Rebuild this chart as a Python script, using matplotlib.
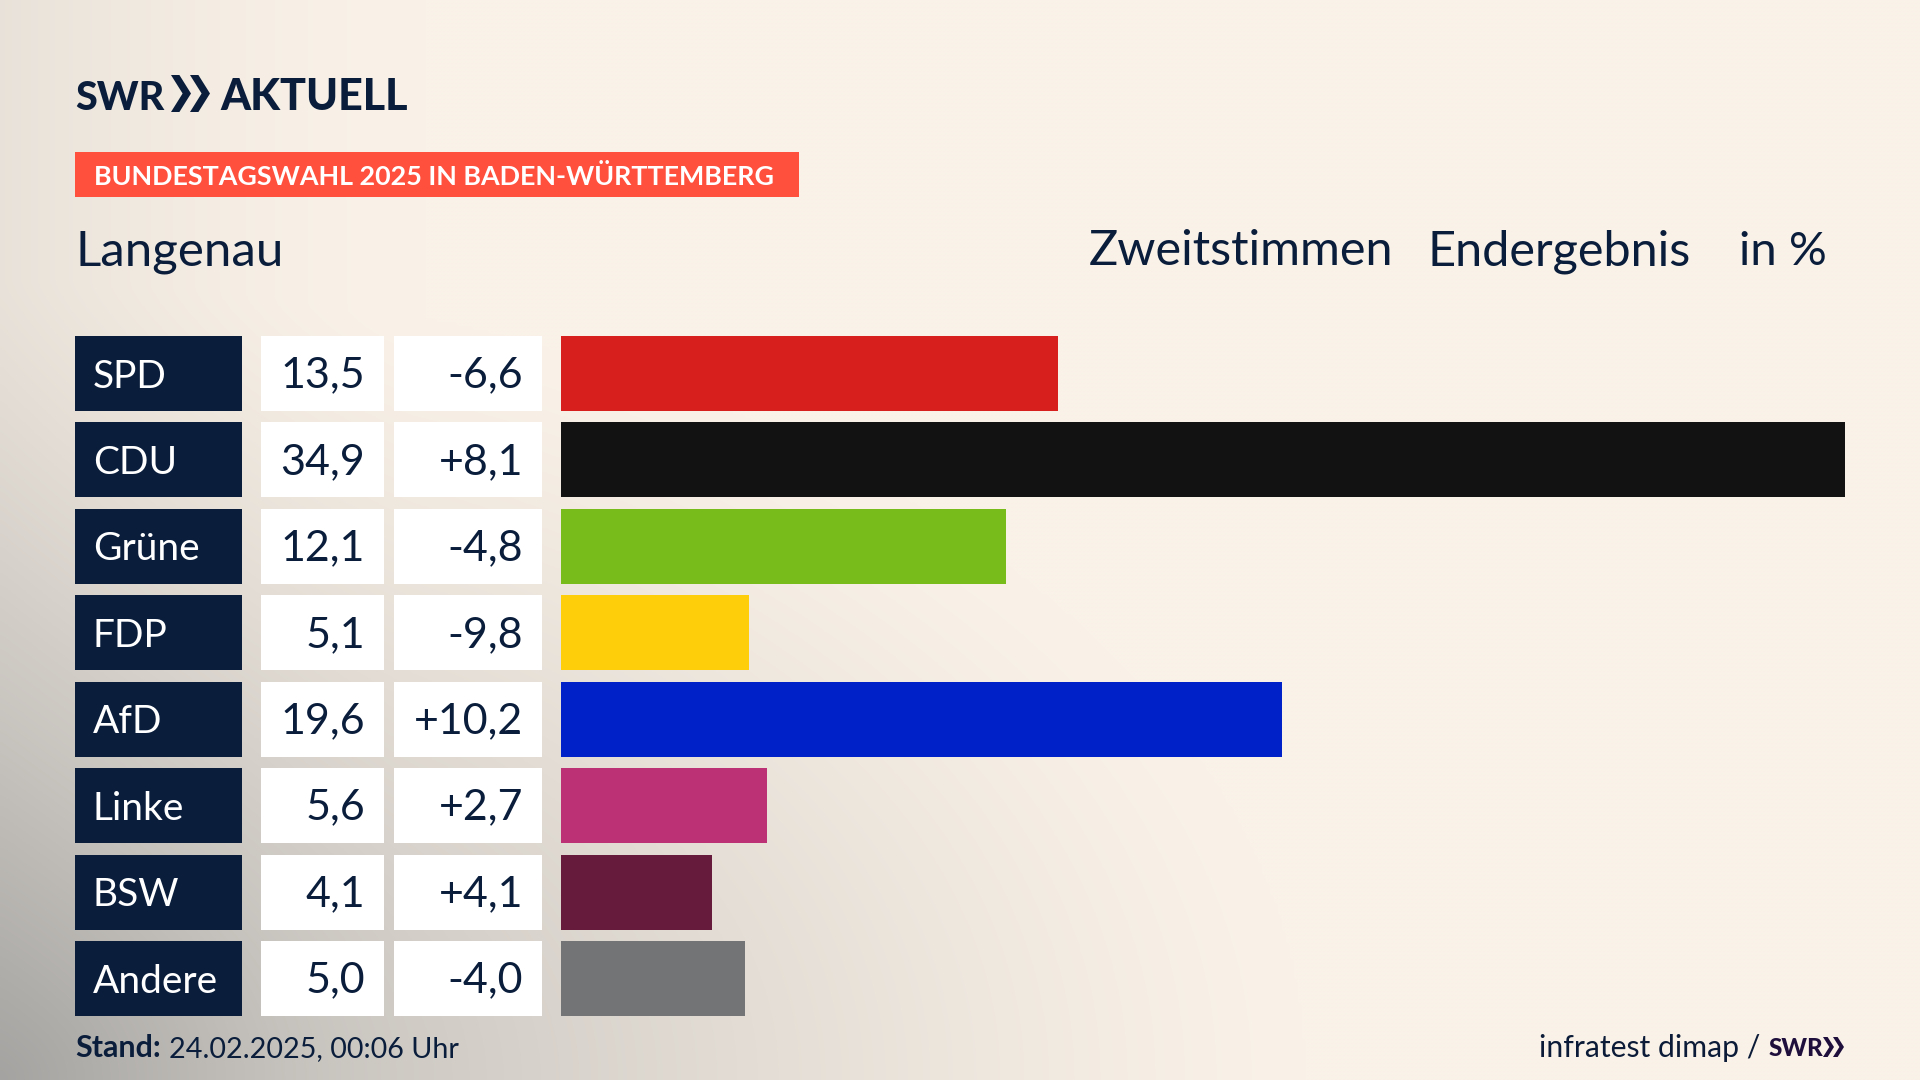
import numpy as np
import matplotlib
matplotlib.use("Agg")
import matplotlib.pyplot as plt
from matplotlib.patches import Rectangle, Polygon

parties = ["SPD", "CDU", "Grüne", "FDP", "AfD", "Linke", "BSW", "Andere"]
shares = [13.5, 34.9, 12.1, 5.1, 19.6, 5.6, 4.1, 5.0]
changes = [-6.6, 8.1, -4.8, -9.8, 10.2, 2.7, 4.1, -4.0]
colors = ["#D7201E", "#121212", "#78BC1B", "#FFCE0A", "#0021C7", "#BC3075", "#661A3C", "#737475"]

NAVY = "#0A1E3C"
CREAM = np.array([0xFA, 0xF2, 0xE8]) / 255
GREY = np.array([0x8C, 0x8D, 0x8D]) / 255
FONT = "Lato"

W, H = 1920, 1080
fig = plt.figure(figsize=(W / 100, H / 100), dpi=100)

bg = fig.add_axes([0, 0, 1, 1])
bg.set_xlim(0, W); bg.set_ylim(H, 0); bg.axis("off")
yy, xx = np.mgrid[0:H:270j, 0:W:480j]
d = np.sqrt((xx / 1300) ** 2 + ((H - yy) / 800) ** 2)
a = np.clip(1 - d, 0, 1) ** 1.25 * 0.62
a2 = np.clip(1 - xx / 420, 0, 1) ** 1.6 * 0.16
alpha = np.clip(a + a2, 0, 1)[..., None]
bg.imshow(CREAM * (1 - alpha) + GREY * alpha, extent=(0, W, H, 0), aspect="auto", interpolation="bicubic", zorder=0)

def txt(x, y, s, size, color=NAVY, ha="left", weight="normal", **kw):
    return bg.text(x, y, s, fontsize=size, color=color, ha=ha, va="baseline",
                   fontfamily=FONT, fontweight=weight, **kw)

def chevrons(x0, top, bot, w, gap, color):
    mid = (top + bot) / 2
    for i in range(2):
        x = x0 + i * (w + gap)
        bg.add_patch(Polygon([(x, top), (x + w * .42, top), (x + w, mid), (x + w * .42, bot), (x, bot), (x + w * .58, mid)],
                             closed=True, fc=color, ec="none"))

# logo
txt(75, 110, "SWR", 28.5, weight="black")
chevrons(171, 75, 112, 20, -1, NAVY)
txt(220, 110, "AKTUELL", 31, weight="black")

# banner
bg.add_patch(Rectangle((75, 152), 724, 45, fc="#FF4F3D", ec="none"))
txt(94, 185, "BUNDESTAGSWAHL 2025 IN BADEN-WÜRTTEMBERG", 19.4, color="white", weight="bold")

# headers
txt(75, 265, "Langenau", 35.5)
txt(1089, 265, "Zweitstimmen", 35)
txt(1428, 265, "Endergebnis", 35)
txt(1739, 265, "in %", 34)

# rows
ROW_TOP, ROW_STEP, ROW_H = 336, 86.43, 75
def fmt(v, signed=False):
    s = f"{v:+.1f}" if signed else f"{v:.1f}"
    return s.replace(".", ",")

for i, (p, s, c) in enumerate(zip(parties, shares, changes)):
    top = ROW_TOP + i * ROW_STEP
    bg.add_patch(Rectangle((75, top), 167, ROW_H, fc=NAVY, ec="none"))
    bg.add_patch(Rectangle((261, top), 123, ROW_H, fc="white", ec="none"))
    bg.add_patch(Rectangle((394, top), 148, ROW_H, fc="white", ec="none"))
    base = top + 51.5
    txt(93, base, p, 28, color="white")
    txt(365, base, fmt(s), 31, ha="right")
    txt(523, base, fmt(c, True), 31, ha="right")

# bars
nrows = len(parties)
span = ROW_STEP * (nrows - 1) + ROW_H
ax = fig.add_axes([561 / W, 1 - (ROW_TOP + span) / H, (1845 - 561) / W, span / H])
ax.patch.set_alpha(0)
ax.axis("off")
ax.barh(range(nrows), shares, height=ROW_H / ROW_STEP, color=colors)
ax.set_xlim(0, max(shares))
half = ROW_H / ROW_STEP / 2
ax.set_ylim(nrows - 1 + half, -half)

# footer
txt(75, 1057, "Stand:", 22, weight="bold")
txt(169, 1057, "24.02.2025, 00:06 Uhr", 20.7)
txt(1760, 1057, "infratest dimap /", 21.7, color="#0C1C38", ha="right")
txt(1769, 1056, "SWR", 17.5, color="#1E0F3C", weight="black")
chevrons(1823, 1037, 1057, 11, -1, "#1E0F3C")

fig.savefig("out.png", dpi=100)
